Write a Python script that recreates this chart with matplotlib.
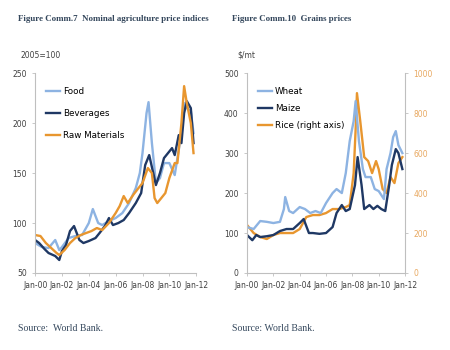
import matplotlib.pyplot as plt

# Figure Comm.7 - nominal agriculture price indices (2005=100)
food_t = [2000.0, 2000.5, 2001.0, 2001.5, 2001.8, 2002.0, 2002.5, 2003.0, 2003.5, 2004.0,
          2004.3, 2004.7, 2005.0, 2005.5, 2006.0, 2006.5, 2007.0, 2007.5, 2007.8, 2008.0,
          2008.3, 2008.45, 2008.7, 2009.0, 2009.3, 2009.6, 2010.0, 2010.4, 2010.6, 2010.9,
          2011.1, 2011.3, 2011.6, 2011.8]
food = [80, 76, 75, 83, 73, 76, 85, 87, 88, 100,
        114, 100, 98, 102, 105, 110, 120, 135, 150, 170,
        210, 221, 180, 140, 145, 160, 160, 148, 165, 190,
        220, 215, 212, 190]

bev_t = [2000.0, 2000.3, 2000.7, 2001.0, 2001.5, 2001.8, 2002.0, 2002.3, 2002.6, 2002.9,
         2003.1, 2003.3, 2003.6, 2004.0, 2004.5, 2004.8, 2005.2, 2005.5, 2005.8, 2006.2,
         2006.6, 2007.0, 2007.5, 2007.9, 2008.2, 2008.5, 2008.8, 2009.0, 2009.3, 2009.6,
         2009.9, 2010.2, 2010.4, 2010.7, 2010.9, 2011.1, 2011.3, 2011.6, 2011.8]
bev = [83, 80, 74, 70, 67, 63, 72, 78, 92, 97,
       90, 83, 80, 82, 85, 90, 97, 105, 98, 100,
       103, 110, 120, 130, 158, 168, 150, 138, 150, 165,
       170, 175, 168, 188, 180, 210, 222, 215, 180]

raw_t = [2000.0, 2000.4, 2000.8, 2001.2, 2001.6, 2001.8, 2002.2, 2002.6, 2003.0, 2003.4,
         2003.8, 2004.2, 2004.6, 2005.0, 2005.5, 2006.0, 2006.3, 2006.6, 2006.9, 2007.3,
         2007.7, 2008.0, 2008.4, 2008.7, 2008.9, 2009.1, 2009.4, 2009.7, 2010.0, 2010.4,
         2010.6, 2010.9, 2011.1, 2011.3, 2011.6, 2011.8]
raw = [88, 87, 80, 75, 70, 68, 73, 80, 85, 88,
       90, 92, 95, 93, 100, 110, 117, 127, 120, 128,
       135, 140, 155, 150, 125, 120, 125, 130, 145, 160,
       160, 200, 237, 220, 200, 170]

# Figure Comm.10 - grains prices ($/mt)
wheat_t = [2000.0, 2000.5, 2001.0, 2001.5, 2002.0, 2002.5, 2002.8, 2002.9, 2003.2, 2003.5,
           2004.0, 2004.4, 2004.8, 2005.2, 2005.6, 2006.0, 2006.5, 2006.8, 2007.2, 2007.5,
           2007.8, 2008.1, 2008.25, 2008.5, 2008.8, 2009.0, 2009.4, 2009.7, 2010.0, 2010.4,
           2010.6, 2010.9, 2011.1, 2011.3, 2011.5, 2011.8]
wheat = [115, 110, 130, 128, 125, 128, 160, 190, 155, 150,
         165, 160, 150, 155, 150, 175, 200, 210, 200, 250,
         330, 380, 430, 330, 260, 240, 240, 210, 205, 185,
         260, 300, 340, 355, 320, 300]

maize_t = [2000.0, 2000.4, 2000.7, 2001.0, 2001.5, 2002.0, 2002.5, 2003.0, 2003.5, 2004.0,
           2004.3, 2004.7, 2005.0, 2005.5, 2006.0, 2006.5, 2006.8, 2007.2, 2007.5, 2007.8,
           2008.2, 2008.4, 2008.7, 2008.9, 2009.3, 2009.6, 2009.9, 2010.2, 2010.5, 2010.8,
           2011.0, 2011.3, 2011.5, 2011.8]
maize = [95, 82, 95, 90, 92, 95, 105, 110, 110, 125,
         135, 100, 100, 98, 100, 115, 150, 170, 155, 160,
         220, 290, 220, 160, 170, 160, 168, 160, 155, 220,
         270, 310, 300, 260]

rice_t = [2000.0, 2000.5, 2001.0, 2001.5, 2002.0, 2002.5, 2003.0, 2003.5, 2004.0, 2004.5,
          2005.0, 2005.5, 2006.0, 2006.5, 2007.0, 2007.5, 2007.8, 2008.1, 2008.25, 2008.35,
          2008.6, 2008.9, 2009.2, 2009.5, 2009.8, 2010.0, 2010.3, 2010.6, 2010.9, 2011.2,
          2011.5, 2011.8]
rice = [240, 200, 180, 170, 190, 200, 200, 200, 220, 280,
        290, 290, 300, 320, 320, 330, 340, 500, 720, 900,
        760, 580, 560, 500, 560, 520, 420, 400, 480, 450,
        550, 580]

year_ticks = [2000, 2002, 2004, 2006, 2008, 2010, 2012]
year_labels = ["Jan-00", "Jan-02", "Jan-04", "Jan-06", "Jan-08", "Jan-10", "Jan-12"]

LIGHT = "#8db3e2"
NAVY = "#1f3864"
ORANGE = "#e8962f"
TITLE_C = "#34475c"
AXIS_C = "#bfbfbf"
TICK_C = "#404040"


def style_axis(ax):
    for s in ["top", "right"]:
        ax.spines[s].set_visible(False)
    for s in ["left", "bottom"]:
        ax.spines[s].set_color(AXIS_C)
    ax.tick_params(colors=AXIS_C, labelcolor=TICK_C, labelsize=5.5, length=2.5, width=0.6)
    ax.set_xticks(year_ticks)
    ax.set_xticklabels(year_labels)
    ax.set_xlim(2000, 2012)


fig = plt.figure(figsize=(4.5, 3.5), dpi=100)

ax1 = fig.add_axes([0.078, 0.22, 0.358, 0.571])
ax1.plot(food_t, food, color=LIGHT, lw=1.7, label="Food")
ax1.plot(bev_t, bev, color=NAVY, lw=1.7, label="Beverages")
ax1.plot(raw_t, raw, color=ORANGE, lw=1.7, label="Raw Materials")
ax1.set_ylim(50, 250)
ax1.set_yticks([50, 100, 150, 200, 250])
style_axis(ax1)
ax1.legend(loc="upper left", bbox_to_anchor=(0.02, 0.97), frameon=False, fontsize=6.3,
           handlelength=1.6, handletextpad=0.3, labelspacing=1.5)

ax2 = fig.add_axes([0.549, 0.22, 0.351, 0.571])
ax2.plot(wheat_t, wheat, color=LIGHT, lw=1.7, label="Wheat")
ax2.plot(maize_t, maize, color=NAVY, lw=1.7, label="Maize")
ax2.set_ylim(0, 500)
ax2.set_yticks([0, 100, 200, 300, 400, 500])
style_axis(ax2)

ax3 = ax2.twinx()
ax3.plot(rice_t, rice, color=ORANGE, lw=1.7, label="Rice (right axis)")
ax3.set_ylim(0, 1000)
ax3.set_yticks([0, 200, 400, 600, 800, 1000])
for s in ["top", "left", "bottom"]:
    ax3.spines[s].set_visible(False)
ax3.spines["right"].set_color(AXIS_C)
ax3.tick_params(colors=AXIS_C, labelcolor="#e8a860", labelsize=5.5, length=2.5, width=0.6)
ax2.set_zorder(ax3.get_zorder() + 1)
ax2.patch.set_visible(False)

h1, l1 = ax2.get_legend_handles_labels()
h2, l2 = ax3.get_legend_handles_labels()
ax2.legend(h1 + h2, l1 + l2, loc="upper left", bbox_to_anchor=(0.02, 0.97), frameon=False,
           fontsize=6.3, handlelength=1.6, handletextpad=0.3, labelspacing=0.9)

serif = ["Liberation Serif", "DejaVu Serif"]
fig.text(0.04, 0.94, "Figure Comm.7  Nominal agriculture price indices", fontsize=6.4,
         family=serif, weight="bold", color=TITLE_C)
fig.text(0.515, 0.94, "Figure Comm.10  Grains prices", fontsize=6.4,
         family=serif, weight="bold", color=TITLE_C)
fig.text(0.045, 0.835, "2005=100", fontsize=5.5, color=TICK_C)
fig.text(0.527, 0.835, "$/mt", fontsize=5.5, color=TICK_C)
fig.text(0.04, 0.055, "Source:  World Bank.", fontsize=7, family=serif, color=TITLE_C)
fig.text(0.515, 0.055, "Source: World Bank.", fontsize=7, family=serif, color=TITLE_C)

fig.savefig("out.png", dpi=100)
